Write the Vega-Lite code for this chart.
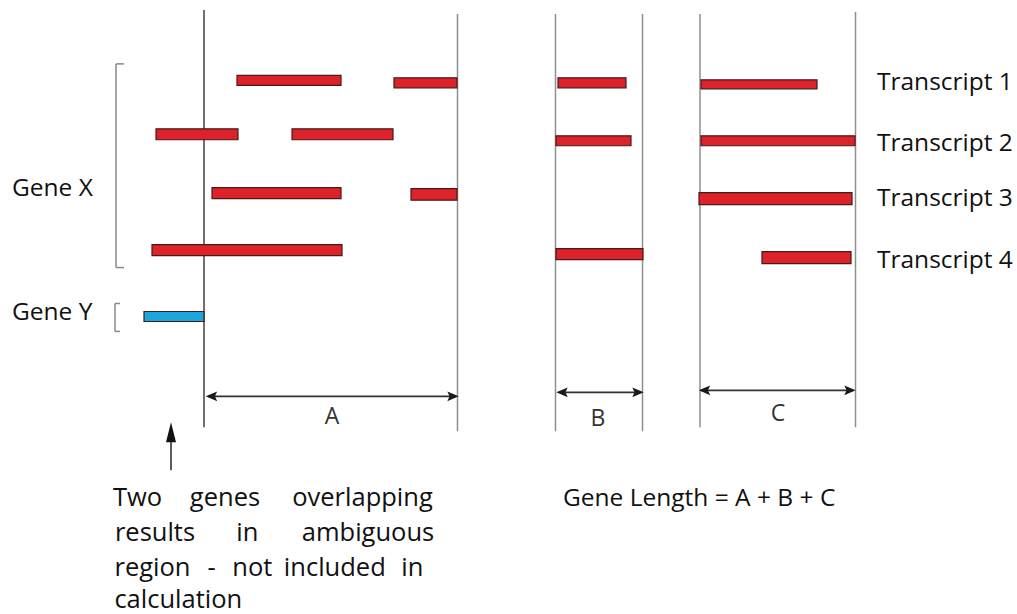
{
  "$schema": "https://vega.github.io/schema/vega-lite/v6.json",
  "width": 1017,
  "height": 614,
  "autosize": {"type": "fit", "contains": "padding"},
  "padding": 0,
  "background": "white",
  "config": {"view": {"stroke": null}},
  "datasets": {
    "guides": [
      {"x": 204, "x2": 204, "y": 10, "y2": 428, "tone": "dark"},
      {"x": 457.5, "x2": 457.5, "y": 14, "y2": 432, "tone": "light"},
      {"x": 555.5, "x2": 555.5, "y": 14, "y2": 432, "tone": "light"},
      {"x": 642.5, "x2": 642.5, "y": 14, "y2": 432, "tone": "light"},
      {"x": 700, "x2": 700, "y": 14, "y2": 428, "tone": "light"},
      {"x": 855.5, "x2": 855.5, "y": 12, "y2": 428, "tone": "light"}
    ],
    "brackets": [
      {"x": 116, "x2": 116, "y": 64, "y2": 268},
      {"x": 116, "x2": 124, "y": 64, "y2": 64},
      {"x": 116, "x2": 124, "y": 268, "y2": 268},
      {"x": 115, "x2": 115, "y": 304, "y2": 332},
      {"x": 115, "x2": 120, "y": 304, "y2": 304},
      {"x": 115, "x2": 120, "y": 332, "y2": 332}
    ],
    "arrows": [
      {"x": 208, "x2": 456, "y": 397, "y2": 397},
      {"x": 559, "x2": 641, "y": 393, "y2": 393},
      {"x": 701, "x2": 853, "y": 391, "y2": 391},
      {"x": 171, "x2": 171, "y": 440, "y2": 471}
    ],
    "heads": [
      {"x": 211.5, "y": 397, "dir": "left"},
      {"x": 453, "y": 397, "dir": "right"},
      {"x": 562, "y": 393, "dir": "left"},
      {"x": 638, "y": 393, "dir": "right"},
      {"x": 704.5, "y": 391, "dir": "left"},
      {"x": 850, "y": 391, "dir": "right"}
    ],
    "upheads": [
      {"x": 171, "y": 433}
    ],
    "bars": [
      {"gene": "X", "x": 237, "x2": 341, "y": 75.5, "y2": 85.5},
      {"gene": "X", "x": 394, "x2": 457, "y": 78, "y2": 88},
      {"gene": "X", "x": 156, "x2": 238, "y": 129, "y2": 140},
      {"gene": "X", "x": 292, "x2": 393, "y": 129, "y2": 140},
      {"gene": "X", "x": 212, "x2": 341, "y": 188, "y2": 199},
      {"gene": "X", "x": 411, "x2": 457, "y": 189, "y2": 200.5},
      {"gene": "X", "x": 152, "x2": 342, "y": 245, "y2": 256},
      {"gene": "X", "x": 558, "x2": 626, "y": 78, "y2": 88},
      {"gene": "X", "x": 556, "x2": 631, "y": 136, "y2": 146},
      {"gene": "X", "x": 556, "x2": 643, "y": 249, "y2": 260},
      {"gene": "X", "x": 701, "x2": 817, "y": 80, "y2": 89},
      {"gene": "X", "x": 701, "x2": 855, "y": 136, "y2": 146},
      {"gene": "X", "x": 699, "x2": 852, "y": 193, "y2": 205},
      {"gene": "X", "x": 762, "x2": 851, "y": 252, "y2": 264},
      {"gene": "Y", "x": 144, "x2": 204, "y": 312, "y2": 322}
    ],
    "leftLabels": [
      {"x": 12, "y": 196, "label": "Gene X"},
      {"x": 12, "y": 321, "label": "Gene Y"},
      {"x": 877, "y": 90, "label": "Transcript 1"},
      {"x": 877, "y": 151, "label": "Transcript 2"},
      {"x": 877, "y": 206, "label": "Transcript 3"},
      {"x": 877, "y": 268, "label": "Transcript 4"},
      {"x": 563, "y": 506.5, "label": "Gene Length = A + B + C"}
    ],
    "words": [
      {"x": 137.5, "y": 506.5, "label": "Two"},
      {"x": 225, "y": 506.5, "label": "genes"},
      {"x": 362.5, "y": 506.5, "label": "overlapping"},
      {"x": 155, "y": 541.5, "label": "results"},
      {"x": 247.3, "y": 541.5, "label": "in"},
      {"x": 368, "y": 541.5, "label": "ambiguous"},
      {"x": 152.5, "y": 577, "label": "region"},
      {"x": 211.5, "y": 577, "label": "-"},
      {"x": 252.3, "y": 577, "label": "not"},
      {"x": 334.8, "y": 577, "label": "included"},
      {"x": 412.3, "y": 577, "label": "in"},
      {"x": 178.3, "y": 609, "label": "calculation"}
    ],
    "spans": [
      {"x": 332, "y": 418, "label": "A"},
      {"x": 598, "y": 420, "label": "B"},
      {"x": 778, "y": 415, "label": "C"}
    ]
  },
  "layer": [
    {
      "data": {"name": "guides"},
      "mark": {"type": "rule", "strokeWidth": 1.5},
      "encoding": {
        "x": {"field": "x", "type": "quantitative", "scale": {"domain": [0, 1017], "nice": false, "zero": false}, "axis": null},
        "x2": {"field": "x2"},
        "y": {"field": "y", "type": "quantitative", "scale": {"domain": [0, 614], "nice": false, "zero": false, "reverse": true}, "axis": null},
        "y2": {"field": "y2"},
        "color": {"field": "tone", "type": "nominal", "scale": {"domain": ["dark", "light"], "range": ["#404040", "#8f8f8f"]}, "legend": null}
      }
    },
    {
      "data": {"name": "brackets"},
      "mark": {"type": "rule", "strokeWidth": 1.5, "color": "#8a8a8a"},
      "encoding": {
        "x": {"field": "x", "type": "quantitative", "axis": null},
        "x2": {"field": "x2"},
        "y": {"field": "y", "type": "quantitative", "axis": null},
        "y2": {"field": "y2"}
      }
    },
    {
      "data": {"name": "arrows"},
      "mark": {"type": "rule", "strokeWidth": 1.6, "color": "#333333"},
      "encoding": {
        "x": {"field": "x", "type": "quantitative", "axis": null},
        "x2": {"field": "x2"},
        "y": {"field": "y", "type": "quantitative", "axis": null},
        "y2": {"field": "y2"}
      }
    },
    {
      "data": {"name": "heads"},
      "mark": {"type": "point", "filled": true, "size": 130, "color": "#1a1a1a", "opacity": 1},
      "encoding": {
        "x": {"field": "x", "type": "quantitative", "axis": null},
        "y": {"field": "y", "type": "quantitative", "axis": null},
        "shape": {"field": "dir", "type": "nominal", "scale": {"domain": ["left", "right"], "range": ["M-1,0L1,-0.85L0.6,0L1,0.85Z", "M1,0L-1,-0.85L-0.6,0L-1,0.85Z"]}, "legend": null}
      }
    },
    {
      "data": {"name": "upheads"},
      "mark": {"type": "point", "filled": true, "size": 400, "color": "#111111", "opacity": 1, "shape": "M0,-1L0.5,1L-0.5,1Z"},
      "encoding": {
        "x": {"field": "x", "type": "quantitative", "axis": null},
        "y": {"field": "y", "type": "quantitative", "axis": null}
      }
    },
    {
      "data": {"name": "bars"},
      "mark": {"type": "rect", "stroke": "#4a1a1a", "strokeWidth": 1.2, "opacity": 1},
      "encoding": {
        "x": {"field": "x", "type": "quantitative", "axis": null},
        "x2": {"field": "x2"},
        "y": {"field": "y", "type": "quantitative", "axis": null},
        "y2": {"field": "y2"},
        "fill": {"field": "gene", "type": "nominal", "scale": {"domain": ["X", "Y"], "range": ["#dd2229", "#1ba6dd"]}, "legend": null}
      }
    },
    {
      "data": {"name": "leftLabels"},
      "mark": {"type": "text", "align": "left", "baseline": "alphabetic", "font": "Open Sans", "fontSize": 24.5, "color": "#111111"},
      "encoding": {
        "x": {"field": "x", "type": "quantitative", "axis": null},
        "y": {"field": "y", "type": "quantitative", "axis": null},
        "text": {"field": "label"}
      }
    },
    {
      "data": {"name": "words"},
      "mark": {"type": "text", "align": "center", "baseline": "alphabetic", "font": "Open Sans", "fontSize": 25.5, "color": "#111111"},
      "encoding": {
        "x": {"field": "x", "type": "quantitative", "axis": null},
        "y": {"field": "y", "type": "quantitative", "axis": null},
        "text": {"field": "label"}
      }
    },
    {
      "data": {"name": "spans"},
      "mark": {"type": "text", "align": "center", "baseline": "middle", "font": "Open Sans", "fontSize": 23, "color": "#333333"},
      "encoding": {
        "x": {"field": "x", "type": "quantitative", "axis": null},
        "y": {"field": "y", "type": "quantitative", "axis": null},
        "text": {"field": "label"}
      }
    }
  ]
}
